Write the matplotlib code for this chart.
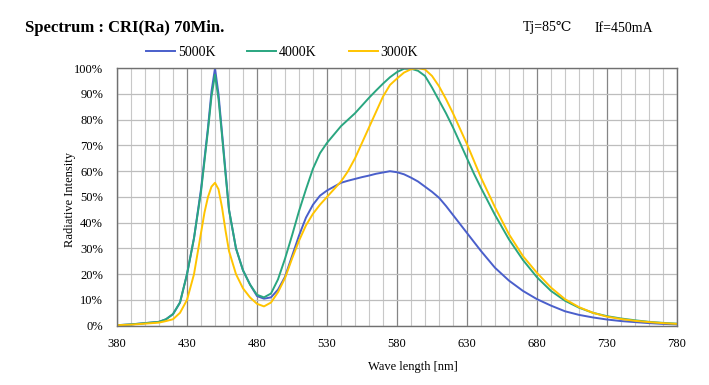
import matplotlib
matplotlib.use('Agg')
import matplotlib.pyplot as plt
import numpy as np

plt.rcParams['font.family'] = ['Liberation Serif', 'DejaVu Serif', 'DejaVu Sans']

# wavelength [nm]
wl = [380, 390, 400, 410, 415, 420, 425, 430, 435, 440, 442.5, 445, 447.5, 450, 452.5,
      455, 457.5, 460, 465, 470, 475, 480, 485, 490, 495, 500, 505, 510, 515, 520,
      525, 530, 540, 545, 550, 555, 560, 565, 570, 575, 580, 585, 590, 595, 600,
      605, 610, 615, 620, 625, 630, 635, 640, 650, 660, 670, 680, 690, 700, 710,
      720, 730, 740, 750, 760, 770, 780]

# relative intensity [%]
k5000 = [0.2, 0.5, 1.0, 1.5, 2.5, 4.5, 9, 20, 34, 53, 65, 77, 91, 100, 90,
         75, 60, 45, 30, 21.5, 16, 11.5, 10.5, 11, 14, 19, 27, 35, 42, 47,
         50.5, 52.5, 55.5, 56.3, 57, 57.7, 58.3, 59, 59.5, 60, 59.6, 58.8, 57.5, 56, 54,
         52, 49.7, 46.5, 43, 39.5, 36, 32.5, 29, 22.5, 17.5, 13.5, 10.3, 7.8, 5.6, 4.2,
         3.2, 2.4, 1.8, 1.4, 1.0, 0.7, 0.5]

k4000 = [0.2, 0.5, 1.0, 1.5, 2.5, 4.5, 9, 20, 34, 52, 64, 76, 89, 97.5, 88,
         74, 59, 45, 30, 21.5, 16, 12, 11, 12.5, 18, 26, 35, 44.5, 53, 61,
         67, 71, 77.5, 80, 82.5, 85.5, 88.5, 91.3, 94, 96.5, 98.5, 99.8, 99.8, 99, 97,
         92.5, 87.5, 82.5, 77, 71, 65, 59, 53.5, 43, 33.5, 25.5, 18.8, 13.5, 9.7, 7,
         5, 3.7, 2.8, 2.1, 1.5, 1.1, 0.8]

k3000 = [0.2, 0.4, 0.8, 1.2, 1.8, 2.5, 5, 10, 20, 36, 44, 50, 54, 55.5, 53,
         46, 37, 29, 20, 14.5, 11, 8.5, 7.5, 9, 13, 18.5, 26, 33, 39, 43.5,
         47, 50, 56, 60, 65, 71, 77, 83, 89, 93.5, 96, 98.3, 99.6, 100, 99.5,
         97, 93, 88, 82.5, 76.5, 70.5, 64, 57.5, 46, 35.5, 27, 20.5, 14.8, 10.3, 7.2,
         5.0, 3.5, 2.6, 1.9, 1.4, 1.0, 0.7]

labels = ['5000K', '4000K', '3000K']
colors = ['#4a5fcb', '#2aa680', '#ffc400']

fig = plt.figure(figsize=(7.09, 3.85), dpi=100)
ax = fig.add_axes([117/709, 1-325.7/385, 560/709, 257.5/385])

for y, lab, c in zip([k5000, k4000, k3000], labels, colors):
    ax.plot(wl, y, color=c, lw=1.4, label=lab, solid_joinstyle='round')

ax.set_xlim(380, 780)
ax.set_ylim(0, 100)
ax.set_xticks(np.arange(380, 781, 50))
ax.set_xticks(np.arange(380, 781, 10), minor=True)
ax.set_yticks(np.arange(0, 101, 10))
ax.set_yticklabels([f'{v}%' for v in range(0, 101, 10)])
ax.grid(which='minor', axis='x', color='#c8c8c8', lw=0.8)
ax.grid(which='major', axis='x', color='#858585', lw=0.9)
ax.grid(which='major', axis='y', color='#bdbdbd', lw=0.9)
ax.set_axisbelow(True)
ax.tick_params(which='both', length=0, labelsize=9, colors='black')
ax.tick_params(axis='x', pad=9)
ax.tick_params(axis='y', pad=10)
for s in ax.spines.values():
    s.set_color('#707070')
    s.set_linewidth(1.0)

fig.text(70/709, 1-200/385, 'Radiative Intensity', rotation=90, ha='center', va='center', fontsize=9)
fig.text(413/709, 1-367/385, 'Wave length [nm]', ha='center', va='center', fontsize=9)

fig.text(25/709, 1-28/385, 'Spectrum : CRI(Ra) 70Min.', ha='left', va='center',
         fontsize=12, fontweight='bold')
fig.text(523/709, 1-28/385, 'Tj=85\u2103', ha='left', va='center', fontsize=10)
fig.text(595/709, 1-28/385, 'If=450mA', ha='left', va='center', fontsize=10)

fig.legend(loc='center', bbox_to_anchor=(282/709, 1-52/385), ncol=3, frameon=False,
           fontsize=10, handlelength=2.1, handletextpad=0.2, columnspacing=2.3)

fig.savefig('out.png', dpi=100)
